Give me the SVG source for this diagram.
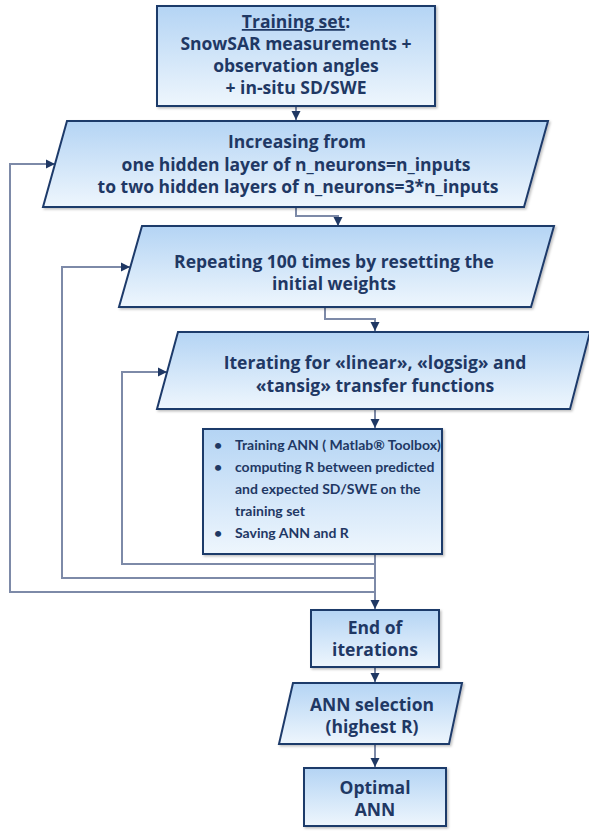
<svg xmlns="http://www.w3.org/2000/svg" width="589" height="832" viewBox="0 0 589 832">
<defs>
<linearGradient id="g" x1="0" y1="0" x2="0" y2="1">
<stop offset="0" stop-color="#b4d4f4"/>
<stop offset="1" stop-color="#eef6fd"/>
</linearGradient>
<marker id="ah" markerUnits="userSpaceOnUse" markerWidth="10" markerHeight="10" refX="9" refY="5" orient="auto">
<path d="M0,0.5 L9,5 L0,9.5 Z" fill="#1f3864"/>
</marker>
<filter id="sh" x="-5%" y="-5%" width="115%" height="120%">
<feDropShadow dx="1.5" dy="1.5" stdDeviation="1" flood-color="#000" flood-opacity="0.25"/>
</filter>
</defs>
<style>
.box{fill:url(#g);stroke:#1f3a6b;stroke-width:2;filter:url(#sh)}
.t{font-family:"Open Sans",Lato,sans-serif;font-weight:700;fill:#1f3864;text-anchor:middle;font-size:17.5px}
.s{font-family:Lato,"Open Sans",sans-serif;font-weight:700;fill:#1f3864;font-size:14px}
.c{fill:none;stroke:#7d8aa8;stroke-width:2}
.a{marker-end:url(#ah)}
</style>
<g id="connectors">
<path class="c a" d="M296,106 V120"/>
<path class="c a" d="M296,207 V216 H338 V226"/>
<path class="c a" d="M325,307 V319 H375 V331"/>
<path class="c a" d="M375,409 V428"/>
<path class="c a" d="M375,554 V609"/>
<path class="c a" d="M375,667 V682"/>
<path class="c a" d="M375,744 V767"/>
<path class="c a" d="M375,592 H10 V164 H55"/>
<path class="c a" d="M375,578 H62 V267 H130"/>
<path class="c a" d="M375,564 H122 V372 H167"/>
</g>
<g id="n1">
<rect class="box" x="157" y="6" width="278" height="100"/>
<text class="t" x="296" y="28"><tspan text-decoration="underline">Training set</tspan>:</text>
<text class="t" x="296" y="50">SnowSAR measurements +</text>
<text class="t" x="296" y="72">observation angles</text>
<text class="t" x="296" y="94">+ in-situ SD/SWE</text>
</g>
<g id="n2">
<polygon class="box" points="67,121 548,121 524,207 43,207"/>
<text class="t" x="297" y="148">Increasing from</text>
<text class="t" x="296" y="171">one hidden layer of n_neurons=n_inputs</text>
<text class="t" x="298" y="193">to two hidden layers of n_neurons=3*n_inputs</text>
</g>
<g id="n3">
<polygon class="box" points="142,226 554,226 531,307 119,307"/>
<text class="t" x="334" y="268">Repeating 100 times by resetting the</text>
<text class="t" x="334" y="290">initial weights</text>
</g>
<g id="n4">
<polygon class="box" points="178,332 590,332 570,409 157,409"/>
<text class="t" x="375" y="369">Iterating for «linear», «logsig» and</text>
<text class="t" x="375" y="392">«tansig» transfer functions</text>
</g>
<g id="n5">
<rect class="box" x="203" y="429" width="239" height="125"/>
<text class="s" x="214" y="450">•</text>
<text class="s" x="235" y="450">Training ANN ( Matlab® Toolbox)</text>
<text class="s" x="214" y="472">•</text>
<text class="s" x="235" y="472">computing R between predicted</text>
<text class="s" x="235" y="494">and expected SD/SWE on the</text>
<text class="s" x="235" y="516">training set</text>
<text class="s" x="214" y="538">•</text>
<text class="s" x="235" y="538">Saving ANN and R</text>
</g>
<g id="n6">
<rect class="box" x="311" y="610" width="128" height="57"/>
<text class="t" x="375" y="634">End of</text>
<text class="t" x="375" y="656">iterations</text>
</g>
<g id="n7">
<polygon class="box" points="293,683 462,683 449,744 279,744"/>
<text class="t" x="372" y="711">ANN selection</text>
<text class="t" x="372" y="733">(highest R)</text>
</g>
<g id="n8">
<rect class="box" x="304" y="768" width="142" height="58"/>
<text class="t" x="375" y="794">Optimal</text>
<text class="t" x="375" y="816">ANN</text>
</g>
</svg>
